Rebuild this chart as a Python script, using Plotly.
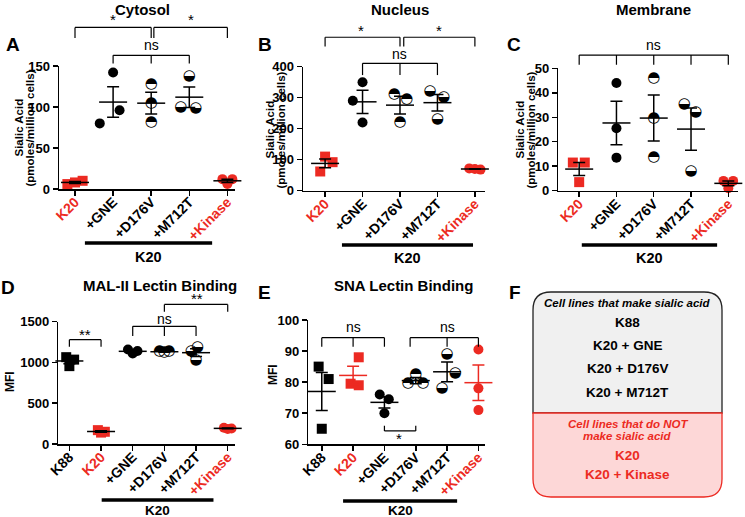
import numpy as np
import plotly.graph_objects as go

W, H = 745, 517
RED = '#ec2a22'
FONT = 'Liberation Sans, Arial, sans-serif'

# ---------------- data ----------------
labels_abc = ['K20', '+GNE', '+D176V', '+M712T', '+Kinase']
labels_de = ['K88', 'K20', '+GNE', '+D176V', '+M712T', '+Kinase']

cytosol = [[6, 8, 10], [142, 96, 80], [128, 104, 82], [137, 100, 99], [12, 12, 6]]
nucleus = [[110, 92, 62], [350, 290, 220], [312, 296, 220], [320, 300, 232], [72, 68, 70]]
membrane = [[11.5, 11.5, 3.5], [44, 25.5, 13.5], [46, 29.5, 13.5], [35.5, 32, 8], [4, 4, 1]]
mal2 = [[1065, 1035, 955], [170, 150, 140], [1160, 1140, 1110], [1140, 1135, 1120],
        [1190, 1140, 1030], [200, 190, 185]]
sna = [[85, 81, 65], [88, 79.5, 79], [76, 74.5, 70], [82.5, 79.5, 79.5], [89, 83, 78],
       [90.5, 78, 71]]

titles = ['Cytosol', 'Nucleus', 'Membrane', 'MAL-II Lectin Binding', 'SNA Lectin Binding']
yticks_a = [0, 50, 100, 150]
yticks_b = [0, 100, 200, 300, 400]
yticks_c = [0, 10, 20, 30, 40, 50]
yticks_d = [0, 500, 1000, 1500]
yticks_e = [60, 70, 80, 90, 100]

f_make = ['K88', 'K20 + GNE', 'K20 + D176V', 'K20 + M712T']
f_not = ['K20', 'K20 + Kinase']

# ---------------- layout / style ----------------
# horizontal spread of overlapping points (GraphPad-like scatter)
jit_a = [[-0.2, 0, 0.2], [0, 0.17, -0.35], [0, 0, 0], [0, -0.22, 0.17], [-0.13, 0.13, 0]]
jit_b = [[0, 0.2, -0.13], [0, -0.26, 0], [-0.15, 0.18, 0], [-0.2, 0.17, 0], [-0.15, 0.15, 0]]
jit_c = [[-0.17, 0.15, 0], [0, 0, 0], [0, 0, 0], [-0.18, 0.13, 0], [-0.13, 0.13, 0]]
jit_d = [[-0.1, 0.15, 0], [-0.1, 0.12, 0], [-0.15, 0.15, 0], [-0.15, 0.15, 0],
         [0.05, -0.15, 0], [-0.12, 0.12, 0]]
jit_e = [[-0.1, 0.22, 0], [0.18, -0.08, 0.18], [-0.15, 0.14, 0], [0, -0.25, 0.23],
         [0, 0.26, -0.16], [0, 0, 0]]

panels = [
    dict(labels=labels_abc, vals=cytosol, jit=jit_a, yticks=yticks_a, xpx=(59, 235),
         ypx=(189, 66), xr=[-0.42, 4.2], mean_red=False),
    dict(labels=labels_abc, vals=nucleus, jit=jit_b, yticks=yticks_b, xpx=(303, 485),
         ypx=(190.7, 66.7), xr=[-0.59, 4.27], mean_red=False),
    dict(labels=labels_abc, vals=membrane, jit=jit_c, yticks=yticks_c, xpx=(558.3, 738),
         ypx=(190.7, 68.3), xr=[-0.56, 4.26], mean_red=False),
    dict(labels=labels_de, vals=mal2, jit=jit_d, yticks=yticks_d, xpx=(58.3, 235),
         ypx=(444, 321.7), xr=[-0.35, 5.23], mean_red=False),
    dict(labels=labels_de, vals=sna, jit=jit_e, yticks=yticks_e, xpx=(308.3, 485),
         ypx=(444.3, 320), xr=[-0.43, 5.21], mean_red=True),
]

fig = go.Figure()
shapes = []
annos = []


def px(x):
    return x / W


def py(y):
    return 1 - y / H


def is_red(lab):
    return lab in ('K20', '+Kinase')


for k, p in enumerate(panels):
    sfx = '' if k == 0 else str(k + 1)
    xa, ya = 'x' + sfx, 'y' + sfx
    yr = [p['yticks'][0], p['yticks'][-1]]
    for i, (lab, v) in enumerate(zip(p['labels'], p['vals'])):
        xs = [i + o for o in p['jit'][i]]
        common = dict(x=xs, y=v, xaxis=xa, yaxis=ya, showlegend=False, cliponaxis=False,
                      hoverinfo='skip')
        if lab in ('+D176V', '+M712T'):
            fig.add_trace(go.Scatter(mode='text', text=['◓' if lab == '+D176V' else '◒'] * len(v),
                                     textposition='middle center',
                                     textfont=dict(family='DejaVu Sans', size=15, color='black'),
                                     **common))
        else:
            sym = 'square' if lab in ('K20', 'K88') else 'circle'
            col = RED if is_red(lab) else 'black'
            fig.add_trace(go.Scatter(mode='markers',
                                     marker=dict(symbol=sym, size=10, color=col, line=dict(width=0)),
                                     **common))
        arr = np.array(v, dtype=float)
        m = arr.mean()
        sem = arr.std(ddof=1) / np.sqrt(len(arr))
        lc = RED if (p['mean_red'] and is_red(lab)) else 'black'
        fig.add_trace(go.Scatter(x=[i], y=[m], xaxis=xa, yaxis=ya, mode='markers',
                                 showlegend=False, cliponaxis=False, hoverinfo='skip',
                                 marker=dict(symbol='line-ew-open', size=20, color=lc,
                                             line=dict(width=1.5, color=lc)),
                                 error_y=dict(type='data', array=[sem], visible=True,
                                              width=6, thickness=1.5, color=lc)))
    ticktext = [f'<span style="color:{RED}">{t}</span>' if is_red(t) else t for t in p['labels']]
    fig.layout['xaxis' + sfx] = dict(
        domain=[px(p['xpx'][0]), px(p['xpx'][1])], range=p['xr'], anchor=ya,
        tickmode='array', tickvals=list(range(len(p['labels']))), ticktext=ticktext,
        tickangle=-45, ticks='outside', ticklen=5, tickwidth=1.5, tickcolor='black',
        ticklabelstandoff=-7,
        showline=True, linewidth=1.5, linecolor='black', showgrid=False, zeroline=False,
        tickfont=dict(family=FONT, size=14, color='black', weight='bold'), automargin=False,
        fixedrange=True)
    fig.layout['yaxis' + sfx] = dict(
        domain=[py(p['ypx'][0]), py(p['ypx'][1])], range=yr, anchor=xa,
        tickmode='array', tickvals=p['yticks'], ticks='outside', ticklen=5, tickwidth=1.5,
        tickcolor='black', showline=True, linewidth=1.5, linecolor='black', showgrid=False,
        zeroline=False, tickfont=dict(family=FONT, size=13, color='black', weight='bold'),
        automargin=False, fixedrange=True)

# ---------------- significance brackets ----------------
# (panel, x_left, x_right, tick_xs, y_h, y_tick_end, label, label_x, label_y)
brackets = [
    (0, 0, 2.0, [0, 2.0], 197, 184, '*', 1, 207),
    (0, 2.07, 4, [2.07, 4], 197, 184, '*', 3.05, 207),
    (0, 1, 3, [1, 2, 3], 163, 153, 'ns', 2, 176),
    (1, 0, 2.0, [0, 2.0], 495, 465, '*', 0.97, 518),
    (1, 2.1, 4, [2.1, 4], 495, 465, '*', 3.05, 518),
    (1, 1, 3, [1, 2, 3], 411, 373, 'ns', 2, 440),
    (2, 0, 4, [0, 1, 2, 3, 4], 55.4, 51.4, 'ns', 2, 59.5),
    (3, 0, 1, [0, 1], 1279, 1193, '**', 0.5, 1345),
    (3, 2, 4, [2, 3, 4], 1443, 1324, 'ns', 3, 1533),
    (3, 3, 5, [3, 5], 1712, 1622, '**', 4.03, 1786),
    (4, 0, 2, [0, 1, 2], 94.3, 91.4, 'ns', 1, 97.9),
    (4, 2.82, 5, [2.82, 4, 5], 94.3, 91.4, 'ns', 4, 97.9),
    (4, 2, 3, [2, 3], 64.3, 66.0, '*', 2.45, 62.0),
]
for (k, x1, x2, txs, yh, yt, lab, lx, ly) in brackets:
    p = panels[k]
    sfx = '' if k == 0 else str(k + 1)
    y0, y1 = p['yticks'][0], p['yticks'][-1]
    fr = lambda v: (v - y0) / (y1 - y0)
    ref = dict(xref='x' + sfx, yref='y' + sfx + ' domain')
    ln = dict(color='black', width=1.2)
    shapes.append(dict(type='line', x0=x1, x1=x2, y0=fr(yh), y1=fr(yh), line=ln, **ref))
    for tx in txs:
        shapes.append(dict(type='line', x0=tx, x1=tx, y0=fr(yh), y1=fr(yt), line=ln, **ref))
    annos.append(dict(text=lab, x=lx, y=fr(ly), showarrow=False,
                      font=dict(family=FONT, size=14 if lab == 'ns' else 15, color='black'),
                      xanchor='center', yanchor='middle', **ref))

# ---------------- "K20" group bars under the axes ----------------
# (panel, x_left, x_right, y_bar_px, y_label_px)
groupbars = [(0, 0.26, 3.6, 243, 257), (1, 0.45, 3.95, 245, 258), (2, 0.07, 3.7, 245, 258),
             (3, 1.02, 4.55, 500, 510), (4, 0.68, 4.32, 501, 510)]
for (k, x1, x2, yb, yl) in groupbars:
    sfx = '' if k == 0 else str(k + 1)
    shapes.append(dict(type='line', xref='x' + sfx, yref='paper', x0=x1, x1=x2,
                       y0=py(yb), y1=py(yb), line=dict(color='black', width=3.5)))
    annos.append(dict(text='<b>K20</b>', xref='x' + sfx, yref='paper', x=(x1 + x2) / 2,
                      y=py(yl), showarrow=False, xanchor='center', yanchor='middle',
                      font=dict(family=FONT, size=13.5 if k >= 3 else 14.5, color='black')))

# ---------------- titles, letters, axis titles ----------------
title_pos = [(142, 9), (400, 9), (653, 9), (160, 285), (403, 285)]
for t, (x, y) in zip(titles, title_pos):
    annos.append(dict(text=f'<b>{t}</b>', xref='paper', yref='paper', x=px(x), y=py(y),
                      showarrow=False, xanchor='center', yanchor='middle',
                      font=dict(family=FONT, size=15, color='black')))
for t, (x, y) in zip('ABCDEF', [(13, 44), (265, 44), (514, 44), (8, 287), (264, 292), (515, 292)]):
    annos.append(dict(text=f'<b>{t}</b>', xref='paper', yref='paper', x=px(x), y=py(y),
                      showarrow=False, xanchor='center', yanchor='middle',
                      font=dict(family=FONT, size=19, color='black')))
for (x1, x2, y) in [(18.5, 29.5, 128), (269.5, 280.5, 130), (519.5, 530.5, 130)]:
    annos.append(dict(text='<b>Sialic Acid</b>', xref='paper', yref='paper', x=px(x1), y=py(y),
                      textangle=-90, showarrow=False, xanchor='center', yanchor='middle',
                      font=dict(family=FONT, size=11.5, color='black')))
    annos.append(dict(text='<b>(pmoles/million cells)</b>', xref='paper', yref='paper', x=px(x2),
                      y=py(y), textangle=-90, showarrow=False, xanchor='center',
                      yanchor='middle', font=dict(family=FONT, size=11.5, color='black')))
for (x, y) in [(10, 382), (273, 375)]:
    annos.append(dict(text='<b>MFI</b>', xref='paper', yref='paper', x=px(x), y=py(y),
                      textangle=-90, showarrow=False, xanchor='center', yanchor='middle',
                      font=dict(family=FONT, size=12, color='black')))

# ---------------- panel F ----------------
L, R, T, M, B, rad = 533, 722, 292, 413, 497, 18


def P(x, y):
    return f'{px(x):.5f},{py(y):.5f}'


top_path = (f'M {P(L, M)} L {P(L, T + rad)} Q {P(L, T)} {P(L + rad, T)} L {P(R - rad, T)} '
            f'Q {P(R, T)} {P(R, T + rad)} L {P(R, M)} Z')
bot_path = (f'M {P(L, M)} L {P(R, M)} L {P(R, B - rad)} Q {P(R, B)} {P(R - rad, B)} '
            f'L {P(L + rad, B)} Q {P(L, B)} {P(L, B - rad)} Z')
shapes.append(dict(type='path', xref='paper', yref='paper', path=top_path,
                   fillcolor='#f0f0f0', line=dict(color='#222222', width=1.3)))
shapes.append(dict(type='path', xref='paper', yref='paper', path=bot_path,
                   fillcolor='#fdd7d7', line=dict(color=RED, width=1.3)))
cx = (L + R) / 2
annos.append(dict(text='<b><i>Cell lines that make sialic acid</i></b>', xref='paper',
                  yref='paper', x=px(cx), y=py(303), showarrow=False, xanchor='center',
                  yanchor='middle', font=dict(family=FONT, size=11.5, color='black')))
for i, t in enumerate(f_make):
    annos.append(dict(text=f'<b>{t}</b>', xref='paper', yref='paper', x=px(cx),
                      y=py(322 + i * 23.4), showarrow=False, xanchor='center',
                      yanchor='middle', font=dict(family=FONT, size=13.5, color='black')))
for i, t in enumerate(['Cell lines that do NOT', 'make sialic acid']):
    annos.append(dict(text=f'<b><i>{t}</i></b>', xref='paper', yref='paper', x=px(cx),
                      y=py(424 + i * 12), showarrow=False, xanchor='center', yanchor='middle',
                      font=dict(family=FONT, size=11.5, color=RED)))
for i, t in enumerate(f_not):
    annos.append(dict(text=f'<b>{t}</b>', xref='paper', yref='paper', x=px(cx),
                      y=py(455 + i * 19), showarrow=False, xanchor='center', yanchor='middle',
                      font=dict(family=FONT, size=13.5, color=RED)))

fig.update_layout(width=W, height=H, autosize=False, margin=dict(l=0, r=0, t=0, b=0),
                  template='none', paper_bgcolor='white', plot_bgcolor='rgba(0,0,0,0)',
                  shapes=shapes, annotations=annos, showlegend=False,
                  font=dict(family=FONT, color='black'))
fig.write_html('out.html', config={'displayModeBar': False, 'staticPlot': True},
               post_script="document.body.style.margin='0';document.body.style.overflow='hidden';")
